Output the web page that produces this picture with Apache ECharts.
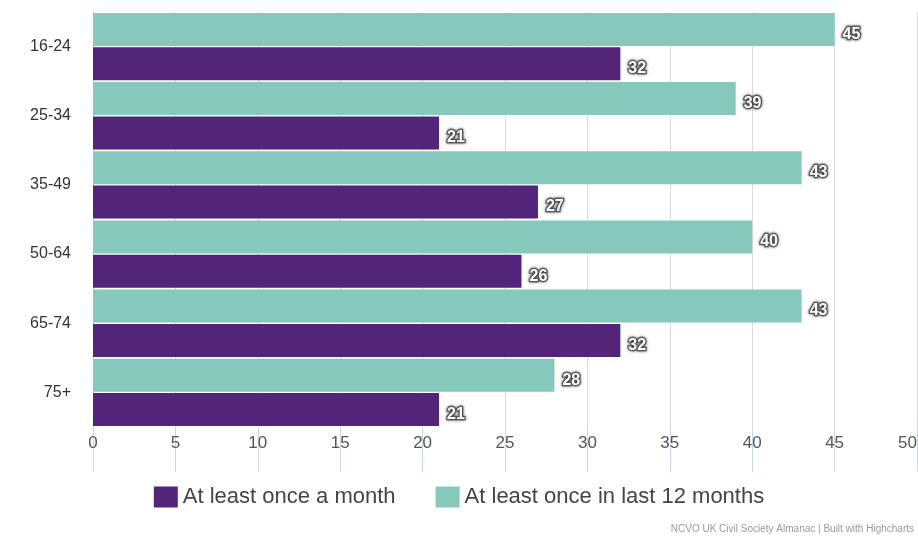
<!DOCTYPE html>
<html>
<head>
<meta charset="utf-8">
<script src="https://cdn.jsdelivr.net/npm/echarts@6/dist/echarts.min.js"></script>
<style>
html,body{margin:0;padding:0;background:#fff;}
#chart{width:918px;height:538px;}
</style>
</head>
<body>
<div id="chart"></div>
<script>
const categories = ["16-24", "25-34", "35-49", "50-64", "65-74", "75+"];
const monthly = [32, 21, 27, 26, 32, 21];
const yearly = [45, 39, 43, 40, 43, 28];
const xTicks = [0, 5, 10, 15, 20, 25, 30, 35, 40, 45, 50];
const seriesNames = ["At least once a month", "At least once in last 12 months"];

const chart = echarts.init(document.getElementById('chart'));
const labelStyle = {
  show: true,
  position: 'right',
  distance: 8,
  offset: [0, 5],
  color: '#fff',
  fontSize: 16,
  fontWeight: 'bold',
  fontFamily: 'Liberation Sans, Arial, sans-serif',
  textBorderColor: '#666',
  textBorderWidth: 2.5,
  textShadowColor: 'rgba(0,0,0,0.6)',
  textShadowBlur: 3
};
chart.setOption({
  animation: false,
  grid: {left: 93, right: 1, top: 12, bottom: 111, containLabel: false, outerBoundsMode: 'none'},
  legend: {
    data: seriesNames,
    top: 481,
    left: 'center',
    itemWidth: 24,
    itemHeight: 21,
    itemGap: 40,
    icon: 'rect',
    textStyle: {fontSize: 22, color: '#444', fontFamily: 'Liberation Sans, Arial, sans-serif'}
  },
  graphic: [{
    type: 'text',
    right: 4,
    bottom: 4,
    style: {text: 'NCVO UK Civil Society Almanac | Built with Highcharts', fontSize: 10, fill: '#999', fontFamily: 'Liberation Sans, Arial, sans-serif'}
  }],
  xAxis: {
    type: 'value',
    min: xTicks[0],
    max: xTicks[xTicks.length - 1],
    interval: 5,
    axisLine: {show: false},
    axisTick: {show: true, length: 45, lineStyle: {color: '#ccd6eb'}},
    splitLine: {show: true, lineStyle: {color: '#dcdcdc'}},
    axisLabel: {margin: 8, fontSize: 17, color: '#555', alignMaxLabel: 'right', fontFamily: 'Liberation Sans, Arial, sans-serif'}
  },
  yAxis: {
    type: 'category',
    data: categories,
    inverse: true,
    axisLine: {show: true, lineStyle: {color: '#ccd6eb'}},
    axisTick: {show: false},
    axisLabel: {margin: 22, fontSize: 16, color: '#333', fontFamily: 'Liberation Sans, Arial, sans-serif'}
  },
  series: [
    {
      name: seriesNames[1],
      type: 'bar',
      data: yearly,
      barWidth: 33,
      barGap: '4%',
      itemStyle: {color: '#87c8bc'},
      label: labelStyle
    },
    {
      name: seriesNames[0],
      type: 'bar',
      data: monthly,
      barWidth: 33,
      barGap: '4%',
      itemStyle: {color: '#52257a'},
      label: labelStyle
    }
  ]
});
</script>
</body>
</html>
